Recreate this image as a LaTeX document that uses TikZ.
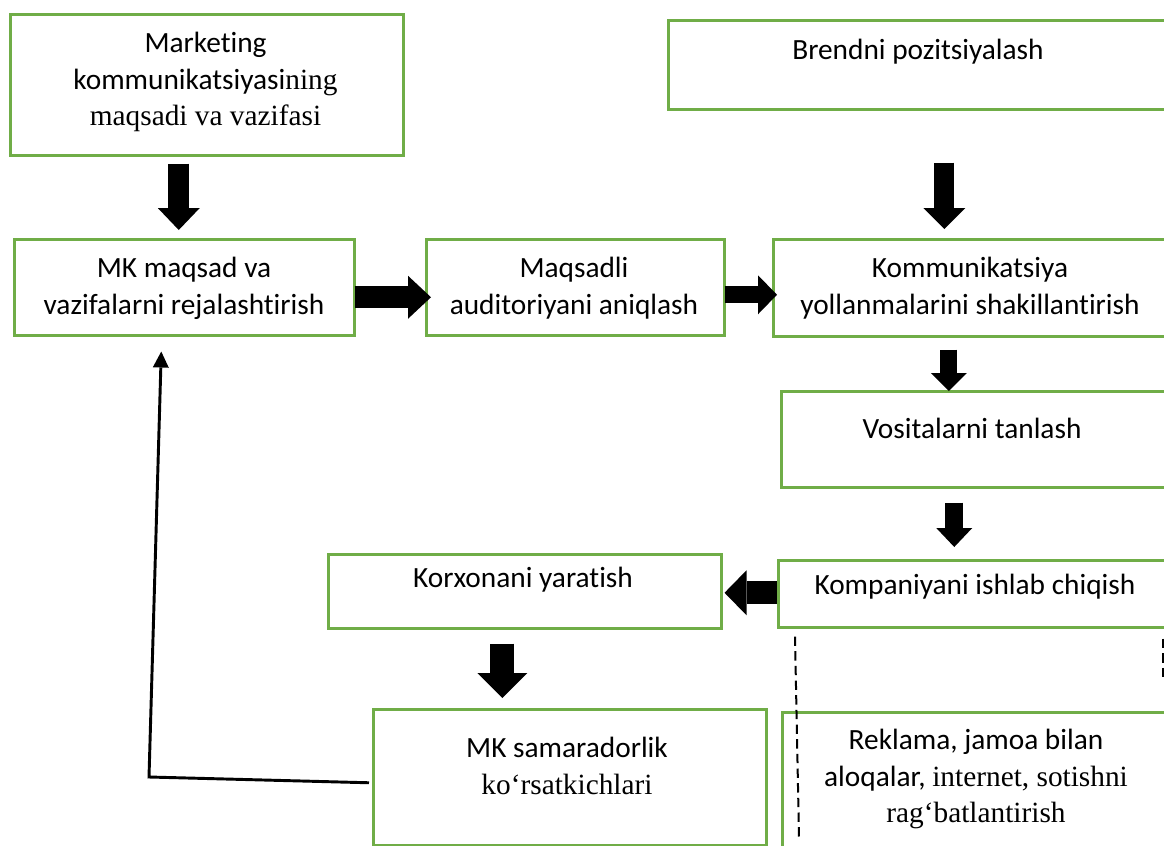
\documentclass[tikz,border=0pt]{standalone}
\usepackage{fontspec}
\setmainfont{Carlito}[Ligatures={TeX,NoCommon}]
\newfontfamily\tms{Liberation Serif}[Ligatures={TeX,NoCommon}]
\usetikzlibrary{arrows.meta,calc}
\definecolor{boxgreen}{RGB}{112,173,71}
\begin{document}
\begin{tikzpicture}[x=0.75pt,y=-0.75pt,
  box/.style={draw=boxgreen,line width=1.9pt,fill=white,inner sep=0pt,anchor=north west},
  txt/.style={align=center,font=\fontsize{22}{27.5}\selectfont,inner sep=0pt},
  blk/.style n args={3}{line width=#1,-{Triangle[width=#2,length=#3,line width=0pt]}},
  back/.style={line width=2.2pt,-{Triangle[width=12pt,length=12pt,line width=0pt]}},
  guide/.style={line width=1.5pt,dash pattern=on 7pt off 4pt}]
\useasboundingbox (0,0) rectangle (1164,846);

% boxes (corners in pixel units; the right column runs off the page)
\node[box,minimum width=294.75pt,minimum height=105.75pt] (mkt)    at (9,13)   {};
\node[box,minimum width=384.75pt,minimum height=66.75pt]  (brend)  at (667,19) {};
\node[box,minimum width=255pt,minimum height=72pt]        (mkmaq)  at (13,238) {};
\node[box,minimum width=223.5pt,minimum height=72pt]      (maqs)   at (425,238){};
\node[box,minimum width=306pt,minimum height=72.75pt]     (komm)   at (772,238){};
\node[box,minimum width=300pt,minimum height=72pt]        (vosit)  at (780,390){};
\node[box,minimum width=302.25pt,minimum height=50.25pt]  (kompan) at (777,559){};
\node[box,minimum width=294.75pt,minimum height=55.5pt]   (korx)   at (327,553){};
\node[box,minimum width=294.75pt,minimum height=102pt]    (mksam)  at (372,708){};
\node[box,minimum width=299.25pt,minimum height=111.75pt] (rekl)   at (781,711){};

% texts
\node[txt] (mkt-t)    at (205.5,82) {Marketing\\kommunikatsiyasi{\tms ning}\\{\tms maqsadi va vazifasi}};
\node[txt] (brend-t)  at (918,52)   {Brendni pozitsiyalash};
\node[txt] (mkmaq-t)  at (184,288)  {MK maqsad va\\vazifalarni rejalashtirish};
\node[txt] (maqs-t)   at (574,288)  {Maqsadli\\auditoriyani aniqlash};
\node[txt] (komm-t)   at (970,288)  {Kommunikatsiya\\yollanmalarini shakillantirish};
\node[txt] (vosit-t)  at (972,428)  {Vositalarni tanlash};
\node[txt] (kompan-t) at (975,587)  {Kompaniyani ishlab chiqish};
\node[txt] (korx-t)   at (523,580)  {Korxonani yaratish};
\node[txt] (mksam-t)  at (567,766)  {MK samaradorlik\\{\tms ko‘rsatkichlari}};
\node[txt] (rekl-t)   at (976,779)  {Reklama, jamoa bilan\\aloqalar, {\tms internet, sotishni}\\{\tms rag‘batlantirish}};

% block arrows between the steps
\draw[blk={15.75pt}{31.5pt}{16.5pt}]  ($(mkt.south)+(-28,7)$) -- ($(mkt.south |- mkmaq.north)+(-28,-8)$);
\draw[blk={15pt}{31.5pt}{15.75pt}]    ($(brend.south)+(19.5,52)$) -- ($(brend.south |- komm.north)+(19.5,-9)$);
\draw[blk={16.5pt}{32.25pt}{17.25pt}] ($(mkmaq.east)+(-1,10)$) -- ($(mkmaq.east -| maqs.west)+(6,10)$);
\draw[blk={12.75pt}{29.25pt}{14.25pt}]($(maqs.east)+(-1,7.5)$) -- ($(maqs.east -| komm.west)+(5,7.5)$);
\draw[blk={12.75pt}{27pt}{13.5pt}]    ($(komm.south)+(-28.5,12)$) -- ($(komm.south |- vosit.north)+(-28.5,1)$);
\draw[blk={13.5pt}{27pt}{14.25pt}]    ($(vosit.south)+(-27,14)$) -- ($(vosit.south |- kompan.north)+(-27,-12)$);
\draw[blk={17.25pt}{33.75pt}{16.5pt}] ($(kompan.west)+(0,-1)$) -- ($(kompan.west -| korx.east)+(2,-1)$);
\draw[blk={18pt}{37.5pt}{18.75pt}]    ($(korx.south)+(-22.5,14)$) -- ($(korx.south |- mksam.north)+(-22.5,-10)$);

% feedback line back to planning
\coordinate (fbk) at (149,777);
\draw[back] ($(mksam.west)+(-3,5.5)$) -- (fbk) -- ($(mkmaq.south)+(-23,15)$);

% dashed guides under the campaign box
\coordinate (g1) at (799,837);
\coordinate (g2) at (1163,680);
\draw[guide] ($(kompan.south west)+(18,8)$) -- (g1);
\draw[guide] ($(kompan.south west)+(386,10)$) -- (g2);
\end{tikzpicture}
\end{document}
